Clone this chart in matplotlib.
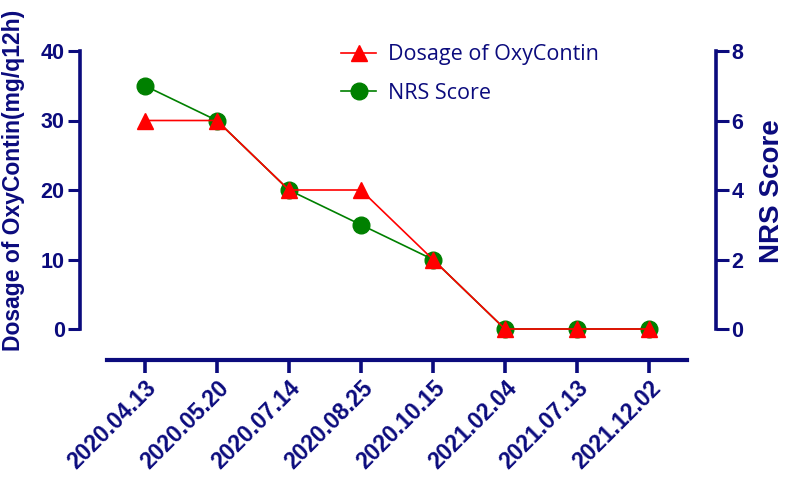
import matplotlib
matplotlib.use("Agg")
import matplotlib.pyplot as plt

dates = ["2020.04.13", "2020.05.20", "2020.07.14", "2020.08.25",
         "2020.10.15", "2021.02.04", "2021.07.13", "2021.12.02"]
dosage = [30, 30, 20, 20, 10, 0, 0, 0]
nrs = [7, 6, 4, 3, 2, 0, 0, 0]

NAVY = "#0B0B7D"
W, H = 787, 478
fig = plt.figure(figsize=(W/100, H/100), dpi=100)
ax = fig.add_axes([80/W, (H-329)/H, (716-80)/W, 278/H])
ax2 = ax.twinx()

x = list(range(len(dates)))
ax2.plot(x, nrs, color="#008000", lw=1.2, marker="o", ms=12, zorder=3,
         clip_on=False, label="NRS Score")
ax.plot(x, dosage, color="#FF0000", lw=1.2, marker="^", ms=12, zorder=4,
        clip_on=False, label="Dosage of OxyContin")
ax.set_zorder(ax2.get_zorder() + 1)
ax.patch.set_visible(False)

ax.set_xlim(-0.9, 7.93)
ax.set_ylim(0, 40)
ax2.set_ylim(0, 8)
ax.set_yticks([0, 10, 20, 30, 40])
ax2.set_yticks([0, 2, 4, 6, 8])

for a in (ax, ax2):
    for s in a.spines.values():
        s.set_visible(False)
    a.tick_params(colors=NAVY, width=2.2, length=9, labelsize=15.5)

ax.spines["left"].set_visible(True)
ax.spines["left"].set_color(NAVY)
ax.spines["left"].set_linewidth(2.6)
ax2.spines["right"].set_visible(True)
ax2.spines["right"].set_color(NAVY)
ax2.spines["right"].set_linewidth(2.6)

ax.spines["bottom"].set_visible(True)
ax.spines["bottom"].set_color(NAVY)
ax.spines["bottom"].set_linewidth(3.0)
ax.spines["bottom"].set_position(("outward", 31 * 0.72))
ax.spines["bottom"].set_bounds(-0.53, 7.53)

ax.set_xticks(x)
ax.set_xticklabels(dates, rotation=45, ha="right", rotation_mode="anchor",
                   fontweight="bold", fontsize=16.5, color=NAVY,
                   family="Liberation Sans")
ax.tick_params(axis="x", length=9, width=2.6, pad=3)
ax2.tick_params(axis="x", bottom=False, labelbottom=False)

for lab in ax.get_yticklabels() + ax2.get_yticklabels():
    lab.set_fontweight("bold")
    lab.set_family("Liberation Sans")
    lab.set_color(NAVY)
ax.tick_params(axis="y", pad=2)
ax2.tick_params(axis="y", pad=2)

fig.text(14/W, 1 - 180/H, "Dosage of OxyContin(mg/q12h)", rotation=90,
         ha="center", va="center", fontsize=16.5, fontweight="bold",
         color=NAVY, family="Liberation Sans")
fig.text(772/W, 1 - 191/H, "NRS Score", rotation=90,
         ha="center", va="center", fontsize=20, fontweight="bold",
         color=NAVY, family="Liberation Sans")

h1, l1 = ax.get_legend_handles_labels()
h2, l2 = ax2.get_legend_handles_labels()
leg = ax.legend(h1 + h2, l1 + l2, loc="upper left",
                bbox_to_anchor=(322/W, 1 - 25/H), bbox_transform=fig.transFigure,
                frameon=False, handlelength=1.6,
                handletextpad=0.55, labelspacing=0.8,
                prop={"family": "Open Sans", "size": 15.5})
for t in leg.get_texts():
    t.set_color(NAVY)

fig.savefig("out.png", dpi=100)
